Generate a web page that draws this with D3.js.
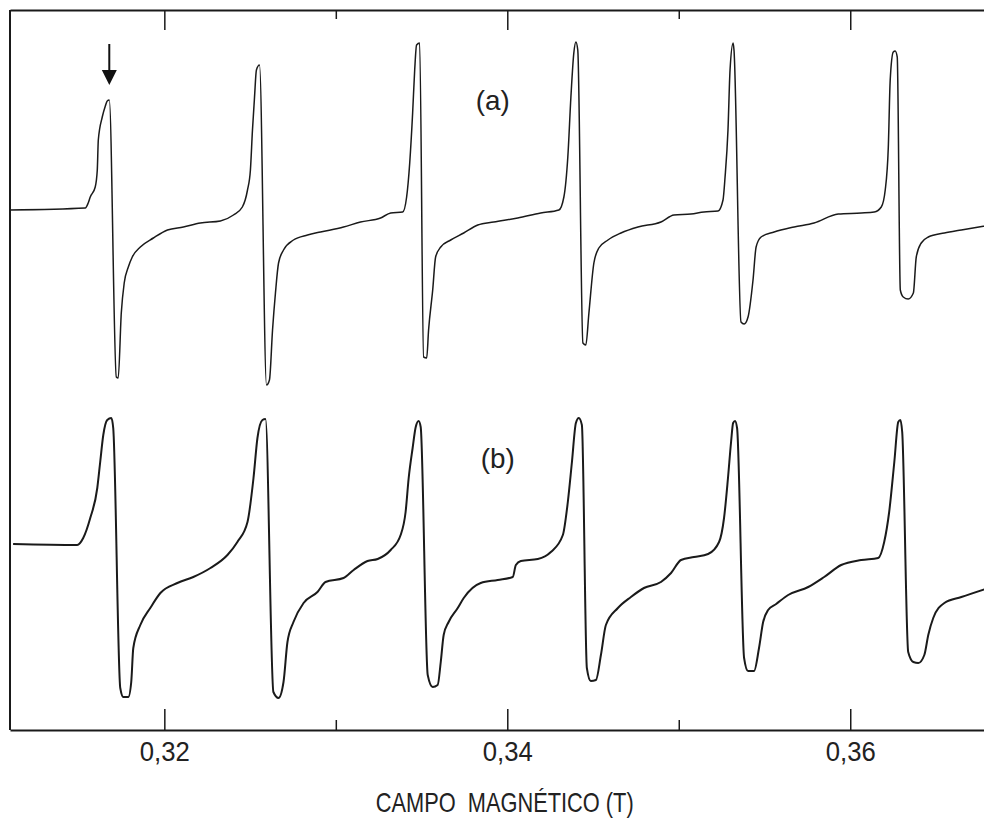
<!DOCTYPE html>
<html lang="es">
<head>
    <meta charset="utf-8">
    <title>EPR spectrum</title>
    <style>
        body { margin: 0; background: #fff; }
        svg { display: block; }
        text { font-family: "Liberation Sans", Arial, sans-serif; fill: #222; }
        .trace { fill: none; stroke: #1a1a1a; stroke-linejoin: round; }
        .axis path, .axis line { stroke: #1a1a1a; }
    </style>
</head>
<body>
<script src="https://d3js.org/d3.v7.min.js"></script>
<script>
    // campo magnetico in mT, senal en unidades arbitrarias
    var fieldA = [311.01, 315.39, 315.56, 315.68, 315.97, 316.09, 316.15, 316.38, 316.56, 316.67, 316.79,
        317.20, 317.31, 317.49, 317.66, 317.90, 318.13, 318.60, 319.36, 320.18, 321.11, 322.10, 323.27,
        324.03, 324.55, 324.85, 325.02, 325.14, 325.26, 325.37, 325.55,
        325.96, 326.13, 326.31, 326.48, 326.66, 326.95, 327.53, 328.35, 329.11, 330.45, 331.44, 332.61,
        333.20, 333.90, 334.13, 334.31, 334.48, 334.60, 334.71, 334.89,
        335.12, 335.30, 335.41, 335.65, 335.82, 336.12, 336.70, 337.46, 338.28, 339.21, 340.61, 341.95,
        343.01, 343.30, 343.53, 343.71, 343.88, 344.00, 344.11,
        344.41, 344.58, 344.76, 345.05, 345.34, 345.87, 346.63, 347.62, 348.96, 349.72, 350.71, 351.47,
        352.29, 352.58, 352.70, 352.87, 352.99, 353.17, 353.22,
        353.63, 353.81, 354.04, 354.33, 354.51, 354.80, 355.56, 356.73, 357.89, 359.30, 360.64, 361.40,
        361.81, 362.04, 362.22, 362.33, 362.51, 362.62, 362.74,
        362.92, 363.09, 363.38, 363.68, 363.85, 364.14, 364.55, 365.49, 366.48, 367.88];
    var signalA = [5, 6, 8.5, 11.5, 16.5, 25, 40, 51.5, 57, 59.5, 60,
        -78.5, -79, -46.5, -31.5, -23.5, -18.5, -13.5, -9, -5, -3.5, -1.5, -0.5,
        2.5, 6.5, 15, 25, 45, 61.5, 75, 77.5,
        -82.5, -80, -55, -36.5, -21.5, -15, -10, -7.5, -6, -3.5, -1, 1,
        3.5, 4, 11.5, 28.5, 53.5, 75, 87.5, 88.5,
        -68.5, -69, -55, -35, -18.5, -13.5, -10, -6.5, -2.5, -1, 1, 3.5,
        5, 11.5, 31.5, 61.5, 83.5, 89, 85,
        -61.5, -62.5, -46.5, -21.5, -14, -10, -6.5, -3.5, -1, 2.5, 3, 4,
        4.5, 10, 21.5, 45, 75, 88.5, 85,
        -51, -52, -48.5, -30, -13.5, -8.5, -6, -3.5, -1.5, 3, 3.5, 4,
        6.5, 15, 36.5, 70, 84, 84.5, 81.5,
        -35, -38.5, -39.5, -36.5, -18.5, -11.5, -8.5, -6.5, -5, -3];

    var fieldB = [311.18, 314.92, 315.27, 315.68, 316.09, 316.26, 316.44, 316.67, 316.91, 317.02,
        317.43, 317.61, 317.90, 318.07, 318.19, 318.60, 319.18, 319.77, 320.76, 321.69, 322.69,
        323.68, 324.26, 324.85, 325.20, 325.43, 325.72, 325.90,
        326.36, 326.66, 326.95, 327.18, 327.53, 328.12, 328.93, 329.40, 330.45, 331.04, 331.85, 332.44,
        333.20, 333.78, 334.07, 334.25, 334.48, 334.66, 334.83, 334.95,
        335.36, 335.65, 335.94, 336.12, 336.29, 336.58, 337.11, 337.46, 338.45, 339.44, 340.32, 340.50,
        340.79, 341.78, 342.54, 343.24, 343.53, 343.77, 344.00, 344.17, 344.35,
        344.64, 344.87, 345.17, 345.46, 345.75, 346.45, 347.21, 347.97, 348.96, 349.55, 350.13, 350.89,
        351.71, 352.35, 352.64, 352.87, 353.05, 353.17, 353.28, 353.40,
        353.81, 354.04, 354.39, 354.68, 354.92, 355.21, 355.68, 356.38, 357.55, 358.48, 359.47, 360.64,
        361.63, 361.98, 362.27, 362.57, 362.80, 362.92, 363.03,
        363.38, 363.68, 363.97, 364.32, 364.55, 364.84, 365.49, 366.48, 367.88];
    var signalB = [8, 7.5, 11, 21, 36, 49, 62.5, 70, 71, 66,
        -64, -68.5, -68.5, -61, -44, -32.5, -24, -16.5, -11.5, -8.5, -4,
        2.5, 9, 19, 41, 61, 70, 70.5,
        -66, -69, -61, -41, -31, -21.5, -16, -11, -9, -5, -0.5, 0.5,
        5, 12.5, 24, 41, 56, 66.5, 69.5, 66.5,
        -57.5, -63.5, -62.5, -51, -37.5, -31, -24, -19, -11.5, -10, -8.5, -2.5,
        -0.5, 0.5, 4, 12.5, 29, 49, 68.5, 71, 67.5,
        -54, -60.5, -60, -47.5, -32.5, -24, -18.5, -14, -11, -6.5, 0, 1.5,
        3, 9, 21, 41, 59, 68.5, 69.5, 66,
        -49, -55.5, -55.5, -44, -31, -25, -22, -17.5, -13.5, -8.5, -2.5, 0,
        1, 9, 24, 49, 69, 70, 64,
        -46, -51, -51.5, -47.5, -37.5, -29, -21.5, -18.5, -14.5];

    var majorTicks = [0.32, 0.34, 0.36];
    var minorTicks = [0.33, 0.35];
    var traceLabels = ["(a)", "(b)"];
    var xTitle = "CAMPO  MAGNÉTICO (T)";

    var margin = {top: 10, right: 0, bottom: 90, left: 10},
        width = 984 - margin.left - margin.right,
        height = 820 - margin.top - margin.bottom;

    var x = d3.scaleLinear()
        .domain([0.311, 0.3678])
        .range([0, width]);
    var yA = d3.scaleLinear().domain([-100, 100]).range([410, 10]);
    var yB = d3.scaleLinear().domain([-100, 100]).range([750, 350]);

    var comma = d3.formatLocale({decimal: ",", thousands: ".", grouping: [3], currency: ["", ""]}).format(".2f");

    var svg = d3.select("body").append("svg")
        .attr("width", width + margin.left + margin.right)
        .attr("height", height + margin.top + margin.bottom)
        .append("g")
        .attr("transform", "translate(" + margin.left + "," + margin.top + ")");

    // frame: left edge
    svg.append("line").attr("x1", 0).attr("x2", 0).attr("y1", 0).attr("y2", height)
        .attr("stroke", "#1a1a1a").attr("stroke-width", 2);

    // bottom axis, ticks pointing inward
    svg.append("g").attr("class", "axis")
        .attr("transform", "translate(0," + height + ")")
        .call(d3.axisBottom(x).tickValues(majorTicks).tickSizeInner(-21).tickSizeOuter(0)
            .tickPadding(12).tickFormat(comma))
        .call(function(g) {
            g.select(".domain").attr("stroke-width", 2);
            g.selectAll(".tick line").attr("stroke-width", 1.5);
            g.selectAll("text").attr("font-size", 27).attr("dy", "0.71em").attr("fill", "#222")
                .attr("textLength", 50).attr("lengthAdjust", "spacingAndGlyphs");
        });
    svg.append("g").attr("class", "axis")
        .attr("transform", "translate(0," + height + ")")
        .call(d3.axisBottom(x).tickValues(minorTicks).tickSizeInner(-10).tickSizeOuter(0).tickFormat(""))
        .call(function(g) {
            g.select(".domain").remove();
            g.selectAll(".tick line").attr("stroke-width", 1.5);
        });

    // top axis
    svg.append("g").attr("class", "axis")
        .call(d3.axisTop(x).tickValues(majorTicks).tickSizeInner(-20).tickSizeOuter(0).tickFormat(""))
        .call(function(g) {
            g.select(".domain").attr("stroke-width", 2);
            g.selectAll(".tick line").attr("stroke-width", 1.5);
        });
    svg.append("g").attr("class", "axis")
        .call(d3.axisTop(x).tickValues(minorTicks).tickSizeInner(-9).tickSizeOuter(0).tickFormat(""))
        .call(function(g) {
            g.select(".domain").remove();
            g.selectAll(".tick line").attr("stroke-width", 1.5);
        });

    // traces
    var dataA = fieldA.map(function(f, i) { return {f: f / 1000, s: signalA[i]}; });
    var dataB = fieldB.map(function(f, i) { return {f: f / 1000, s: signalB[i]}; });

    var lineA = d3.line().curve(d3.curveMonotoneX)
        .x(function(d) { return x(d.f); })
        .y(function(d) { return yA(d.s); });
    var lineB = d3.line().curve(d3.curveMonotoneX)
        .x(function(d) { return x(d.f); })
        .y(function(d) { return yB(d.s); });

    svg.append("path").datum(dataA).attr("class", "trace")
        .attr("stroke-width", 1.5).attr("d", lineA);
    svg.append("path").datum(dataB).attr("class", "trace")
        .attr("stroke-width", 2).attr("d", lineB);

    // trace labels
    svg.append("text").attr("x", x(0.33915)).attr("y", yA(55)).attr("text-anchor", "middle")
        .attr("font-size", 28).attr("textLength", 34).attr("lengthAdjust", "spacingAndGlyphs")
        .text(traceLabels[0]);
    svg.append("text").attr("x", x(0.33945)).attr("y", yB(46)).attr("text-anchor", "middle")
        .attr("font-size", 28).attr("textLength", 34).attr("lengthAdjust", "spacingAndGlyphs")
        .text(traceLabels[1]);

    // arrow over the first line of (a)
    var peak = dataA[d3.maxIndex(dataA.slice(0, 12), function(d) { return d.s; })];
    var ax = x(peak.f), ay = yA(peak.s) - 15;
    svg.append("line").attr("x1", ax).attr("x2", ax).attr("y1", ay - 41).attr("y2", ay - 12)
        .attr("stroke", "#111").attr("stroke-width", 2);
    svg.append("path")
        .attr("d", "M" + (ax - 7.5) + "," + (ay - 15) + "L" + (ax + 7.5) + "," + (ay - 15) + "L" + ax + "," + ay + "Z")
        .attr("fill", "#111");

    // axis title
    svg.append("text").attr("x", x(0.33985)).attr("y", height + 82).attr("text-anchor", "middle")
        .attr("font-size", 28).attr("xml:space", "preserve")
        .attr("textLength", 258).attr("lengthAdjust", "spacingAndGlyphs").text(xTitle);
</script>
</body>
</html>
